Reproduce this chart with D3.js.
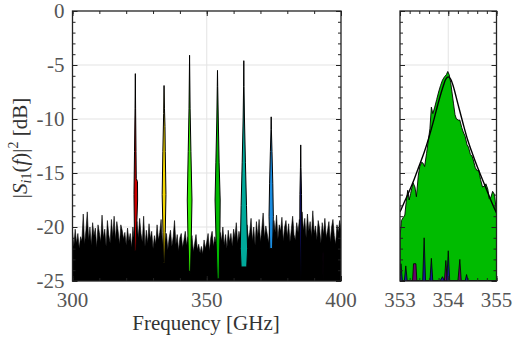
<!DOCTYPE html>
<html>
<head>
<meta charset="utf-8">
<script src="https://cdn.jsdelivr.net/npm/d3@7"></script>
<style>
  body { margin: 0; background: #fff; }
  svg { display: block; }
  svg text { font-family: "Liberation Serif", "Times New Roman", "Noto Serif", "DejaVu Serif", serif; }
</style>
</head>
<body>
<svg id="chart" width="513" height="341" font-family="Liberation Serif, DejaVu Serif, serif"></svg>
<script>
// ---- data ----
// noise floor of all channels, 300..400 GHz in 0.5 GHz steps (dB)
const noiseStart = 300, noiseStep = 0.5;
const noiseDb = [
  -20.4, -21.8, -20.2, -21.5, -20.6, -22.0, -20.9, -21.3, -18.8, -21.6,
  -20.3, -18.6, -21.2, -20.0, -21.7, -19.6, -20.8, -20.1, -21.9, -19.8,
  -20.5, -21.4, -18.9, -21.0, -20.2, -21.8, -19.4, -20.7, -21.5, -19.3,
  -20.9, -19.0, -21.2, -19.5, -20.4, -21.6, -19.8, -20.3, -21.1, -20.5,
  -21.7, -20.1, -21.3, -20.6, -21.9, -20.0, -21.2, -20.2, -19.5, -21.0,
  -19.2, -20.6, -21.4, -19.0, -21.8, -20.3, -21.5, -19.7, -21.1, -20.4,
  -22.0, -20.8, -21.6, -19.8, -21.2, -20.5, -19.3, -21.7, -20.0, -21.4,
  -20.6, -22.1, -21.0, -20.3, -21.8, -20.9, -19.4, -21.6, -20.7, -22.2,
  -21.0, -20.6, -21.9, -21.2, -20.4, -21.7, -20.9, -22.0, -21.3, -20.8,
  -22.3, -21.5, -20.7, -22.1, -21.6, -22.4, -21.8, -22.5, -21.2, -22.0,
  -21.4, -20.6, -22.2, -21.0, -20.4, -21.8, -20.9, -21.5, -20.8, -21.9,
  -20.5, -21.3, -20.0, -21.7, -20.7, -22.0, -20.3, -21.4, -20.6, -21.8,
  -20.2, -21.0, -19.6, -21.5, -20.4, -21.2, -20.0, -21.6, -20.8, -21.9,
  -19.8, -21.1, -20.5, -19.2, -21.3, -20.0, -21.7, -19.5, -20.9, -19.3,
  -21.4, -20.2, -18.7, -21.0, -19.9, -20.6, -21.5, -19.6, -20.8, -21.2,
  -19.4, -20.5, -18.9, -21.1, -19.8, -20.4, -19.1, -21.3, -20.0, -19.4,
  -20.9, -19.7, -21.4, -20.2, -19.0, -20.7, -21.2, -19.6, -20.5, -19.3,
  -20.8, -18.6, -20.3, -19.2, -21.0, -18.8, -20.4, -19.5, -20.9, -18.5,
  -20.6, -19.9, -21.2, -19.4, -20.1, -21.5, -19.6, -20.7, -19.2, -21.0,
  -20.3, -19.5, -21.4, -20.0, -19.3, -20.8, -21.6, -19.8, -20.5, -19.4,
  -20.2
];

// channel peaks: centre frequency (GHz), colour, outline [offset GHz, dB]
const peakCenters = [323.4, 334.1, 343.6, 354.0, 363.8, 374.0, 385.0, 393.4];
const peakColors = ['#cc0000', '#f2d600', '#33ee00', '#00bb00', '#00a99a', '#1a8ce0', '#141480', '#6b006b'];
const peakShapes = [
  [[-0.2, -22.2], [-0.35, -20], [-0.5, -17], [-0.3, -13], [-0.1, -9], [0, -5.8], [0.1, -9],
   [0.25, -13], [0.35, -15.5], [0.8, -15.8], [0.85, -17.5], [0.5, -20], [0.2, -22.2]],
  [[-0.2, -23.3], [-0.4, -20.5], [-0.7, -17], [-0.45, -13], [-0.15, -9.5], [0, -6.9], [0.15, -9],
   [0.35, -10.7], [0.45, -13], [0.7, -17], [0.45, -20.5], [0.2, -23.3]],
  [[-0.25, -24], [-0.6, -21], [-0.85, -17.5], [-0.5, -13], [-0.2, -9], [0, -4.1], [0.2, -9],
   [0.5, -13], [0.9, -17.5], [0.6, -21.5], [0.35, -24.3]],
  [[-0.1, -24.8], [-0.5, -21.5], [-0.9, -17.5], [-0.6, -14], [-0.25, -10], [-0.08, -7], [0, -5.5],
   [0.08, -7], [0.3, -10], [0.6, -14], [1.0, -17.5], [0.9, -21], [0.6, -24.8]],
  [[-1.0, -23.7], [-1.3, -22], [-1.0, -18], [-0.6, -14], [-0.25, -10], [-0.08, -7], [0, -4.6],
   [0.08, -7], [0.25, -10], [0.6, -14], [1.0, -18], [1.4, -22], [1.1, -23.7]],
  [[-0.5, -22], [-0.8, -19], [-0.6, -16], [-0.3, -13], [-0.08, -11], [0, -9.8], [0.08, -11],
   [0.3, -13], [0.6, -16], [0.8, -19], [0.5, -22]],
  [[-0.1, -24.8], [-0.35, -20], [-0.3, -17], [-0.1, -14.5], [0, -12.4], [0.1, -14.5], [0.3, -17],
   [0.35, -20], [0.1, -24.8]],
  [[-0.1, -25], [-0.15, -22.5], [0, -21.8], [0.15, -22.5], [0.1, -25]]
];

// zoomed channel around 354 GHz: measured spectrum [GHz, dB]
const zoomGreen = [
  [353.00, -20.9], [353.03, -19.4], [353.07, -19.1], [353.10, -18.9], [353.13, -17.6],
  [353.16, -16.6], [353.19, -17.5], [353.22, -16.9], [353.27, -15.9], [353.31, -16.3],
  [353.34, -17.2], [353.38, -15.2], [353.41, -14.4], [353.45, -14.0], [353.48, -14.1],
  [353.51, -14.4], [353.55, -13.2], [353.58, -12.2], [353.62, -10.9], [353.65, -8.9],
  [353.68, -9.5], [353.72, -8.9], [353.76, -8.2], [353.80, -7.5], [353.84, -6.9],
  [353.88, -6.4], [353.92, -6.1], [353.96, -5.9], [353.99, -5.6], [354.02, -5.9],
  [354.05, -6.6], [354.08, -7.6], [354.11, -8.6], [354.14, -9.6], [354.17, -10.0],
  [354.21, -10.1], [354.24, -10.1], [354.28, -10.8], [354.31, -11.2], [354.35, -11.6],
  [354.39, -12.4], [354.42, -12.6], [354.46, -13.3], [354.49, -13.4], [354.52, -13.8],
  [354.56, -14.5], [354.60, -14.8], [354.63, -14.7], [354.67, -15.6], [354.71, -16.3],
  [354.75, -16.2], [354.78, -16.0], [354.82, -16.5], [354.85, -17.4], [354.88, -17.3],
  [354.92, -16.7], [354.96, -17.0], [355.00, -18.7]
];
// fitted line shape [GHz, dB]
const zoomFit = [
  [353.0, -18.6], [353.1, -17.6], [353.2, -16.6], [353.3, -15.5], [353.4, -14.3],
  [353.5, -13.1], [353.6, -11.7], [353.7, -10.1], [353.8, -8.4], [353.9, -6.9],
  [353.95, -6.3], [354.0, -6.1], [354.05, -6.3], [354.1, -6.9], [354.2, -8.6],
  [354.3, -10.3], [354.4, -11.9], [354.5, -13.2], [354.6, -14.4], [354.7, -15.5],
  [354.8, -16.6], [354.9, -17.7], [355.0, -18.7]
];
// neighbouring channels leaking into the zoom window [GHz, dB]
const zoomBlue = [
  [353.00, -25], [353.02, -23.4], [353.05, -25], [353.09, -25], [353.12, -23.6], [353.15, -25],
  [353.47, -25], [353.50, -21.0], [353.53, -25], [353.62, -25], [353.65, -22.9], [353.68, -25],
  [353.83, -25], [353.88, -24.6], [353.92, -25], [353.97, -25], [354.00, -22.2], [354.03, -25],
  [354.35, -25], [354.38, -24.4], [354.41, -25], [355.00, -25]
];
const zoomPurple = [
  [353.00, -25], [353.26, -25], [353.28, -23.4], [353.33, -23.4], [353.35, -25],
  [353.92, -25], [353.95, -23.1], [353.98, -25], [354.20, -25], [354.24, -23.0],
  [354.27, -25], [355.00, -25]
];

const yTicks = [0, -5, -10, -15, -20, -25];
const xTicksLeft = [300, 350, 400];
const xTicksRight = [353, 354, 355];

// ---- layout ----
const svg = d3.select('#chart');
const yTop = 11, yBot = 281;
const y = d3.scaleLinear().domain([-25, 0]).range([yBot, yTop]);
const xL = d3.scaleLinear().domain([300, 400]).range([72.5, 341]);
const xR = d3.scaleLinear().domain([353, 355]).range([400, 496.5]);
const serif = '"Liberation Serif", "Times New Roman", "Noto Serif", "DejaVu Serif", serif';

const defs = svg.append('defs');
function addClip(id, x) {
  defs.append('clipPath').attr('id', id)
    .append('rect')
    .attr('x', x.range()[0]).attr('y', yTop)
    .attr('width', x.range()[1] - x.range()[0]).attr('height', yBot - yTop);
}
addClip('clipL', xL);
addClip('clipR', xR);

function grid(x, xs) {
  const g = svg.append('g').attr('stroke', '#e3e3e3').attr('stroke-width', 1);
  [-5, -10, -15, -20].forEach(v => {
    g.append('line').attr('x1', x.range()[0]).attr('x2', x.range()[1])
      .attr('y1', y(v)).attr('y2', y(v));
  });
  xs.forEach(v => {
    g.append('line').attr('x1', x(v)).attr('x2', x(v)).attr('y1', yTop).attr('y2', yBot);
  });
}
grid(xL, [350]);
grid(xR, [354]);

// ---- left panel ----
const gL = svg.append('g').attr('clip-path', 'url(#clipL)');
const noiseArea = d3.area()
  .x((d, i) => xL(noiseStart + i * noiseStep))
  .y0(y(-25))
  .y1(d => y(d));
gL.append('path').datum(noiseDb)
  .attr('d', noiseArea)
  .attr('fill', '#000').attr('stroke', '#000').attr('stroke-width', 0.6);

const peakLine = d3.line().x(d => xL(d[0])).y(d => y(d[1]));
peakCenters.forEach((f0, k) => {
  const pts = peakShapes[k].map(p => [f0 + p[0], p[1]]);
  gL.append('path')
    .attr('d', peakLine(pts) + 'Z')
    .attr('fill', peakColors[k])
    .attr('stroke', '#000').attr('stroke-width', 1)
    .attr('stroke-linejoin', 'round');
});

// ---- right panel ----
const gR = svg.append('g').attr('clip-path', 'url(#clipR)');
const zoomArea = d3.area().x(d => xR(d[0])).y0(y(-25)).y1(d => y(d[1]));
gR.append('path').datum(zoomGreen).attr('d', zoomArea)
  .attr('fill', '#00bb00').attr('stroke', '#000').attr('stroke-width', 0.9);
gR.append('path').datum(zoomPurple).attr('d', zoomArea)
  .attr('fill', '#6b006b').attr('stroke', '#000').attr('stroke-width', 0.8);
gR.append('path').datum(zoomBlue).attr('d', zoomArea)
  .attr('fill', '#1a1aa0').attr('stroke', '#000').attr('stroke-width', 0.8);
gR.append('path').datum(zoomFit)
  .attr('d', d3.line().x(d => xR(d[0])).y(d => y(d[1])).curve(d3.curveCatmullRom))
  .attr('fill', 'none').attr('stroke', '#000').attr('stroke-width', 1.4);

// ---- axes (boxed, inward ticks on all sides) ----
function frame(x, xMinor, xMajor, showY) {
  const x0 = x.range()[0], x1 = x.range()[1];
  const g = svg.append('g');
  const tick = (sel, len) => sel.tickSize(len).tickFormat('').tickSizeOuter(0);
  g.append('g').attr('transform', `translate(0,${yBot})`)
    .call(tick(d3.axisTop(x).tickValues(xMinor), 3));
  g.append('g').attr('transform', `translate(0,${yTop})`)
    .call(tick(d3.axisBottom(x).tickValues(xMinor), 3));
  g.append('g').attr('transform', `translate(0,${yBot})`)
    .call(tick(d3.axisTop(x).tickValues(xMajor), 5));
  g.append('g').attr('transform', `translate(0,${yTop})`)
    .call(tick(d3.axisBottom(x).tickValues(xMajor), 5));
  const yMinor = d3.range(-25, 1, 1);
  g.append('g').attr('transform', `translate(${x0},0)`)
    .call(tick(d3.axisRight(y).tickValues(yMinor), 3));
  g.append('g').attr('transform', `translate(${x1},0)`)
    .call(tick(d3.axisLeft(y).tickValues(yMinor), 3));
  g.append('g').attr('transform', `translate(${x0},0)`)
    .call(tick(d3.axisRight(y).tickValues(yTicks), 5));
  g.append('g').attr('transform', `translate(${x1},0)`)
    .call(tick(d3.axisLeft(y).tickValues(yTicks), 5));
  g.selectAll('.domain').remove();
  g.selectAll('line').attr('stroke', '#222').attr('stroke-width', 1);
  g.append('rect').attr('x', x0).attr('y', yTop)
    .attr('width', x1 - x0).attr('height', yBot - yTop)
    .attr('fill', 'none').attr('stroke', '#222').attr('stroke-width', 1.3);

  g.selectAll('.xlab').data(xMajor).enter().append('text')
    .attr('x', d => x(d)).attr('y', 307)
    .attr('text-anchor', 'middle')
    .style('font-family', serif)
    .attr('font-size', 21).attr('fill', '#555')
    .text(d => d);
  if (showY) {
    g.selectAll('.ylab').data(yTicks).enter().append('text')
      .attr('x', x0 - 8).attr('y', d => y(d) + 7)
      .attr('text-anchor', 'end')
      .style('font-family', serif)
      .attr('font-size', 21).attr('fill', '#555')
      .text(d => d);
  }
}
frame(xL, d3.range(300, 401, 10), xTicksLeft, true);
frame(xR, d3.range(353, 355.01, 0.2), xTicksRight, false);

// ---- labels ----
svg.append('text')
  .attr('x', 206).attr('y', 330)
  .attr('text-anchor', 'middle')
  .style('font-family', serif)
  .attr('font-size', 21).attr('fill', '#333')
  .text('Frequency [GHz]');

const yl = svg.append('text')
  .attr('transform', 'translate(27,148) rotate(-90)')
  .attr('text-anchor', 'middle')
  .style('font-family', serif)
  .attr('font-size', 21).attr('fill', '#333');
yl.append('tspan').text('|');
yl.append('tspan').attr('font-style', 'italic').text('S');
yl.append('tspan').attr('font-size', 14).attr('dy', 4).attr('font-style', 'italic').text('i');
yl.append('tspan').attr('font-size', 14).text('1');
yl.append('tspan').attr('dy', -4).text('(');
yl.append('tspan').attr('font-style', 'italic').text('f');
yl.append('tspan').text(')|');
yl.append('tspan').attr('font-size', 14).attr('dy', -9).text('2');
yl.append('tspan').attr('dy', 9).text(' [dB]');
</script>
</body>
</html>
